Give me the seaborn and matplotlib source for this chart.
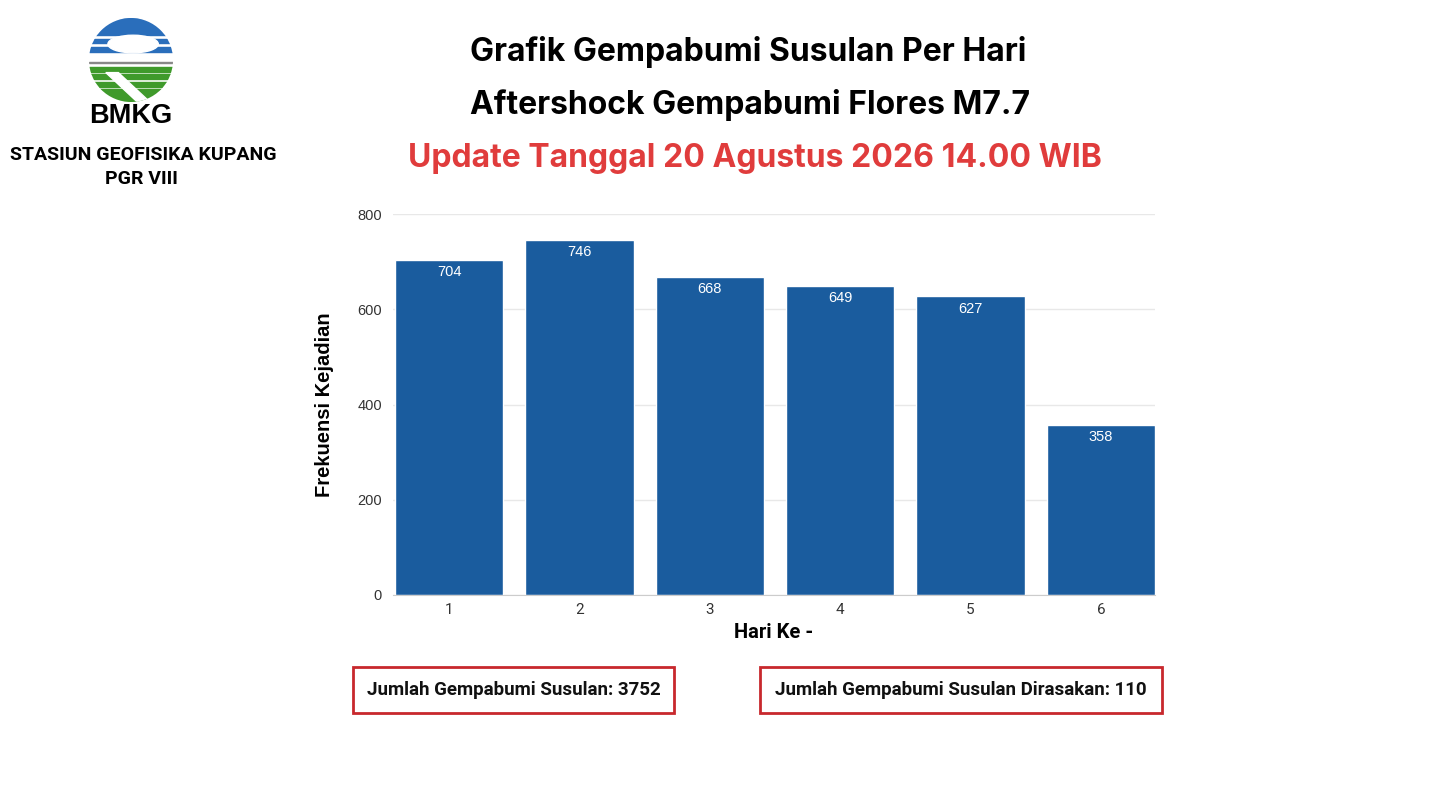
import matplotlib.pyplot as plt
import matplotlib.patches as mpatches
import seaborn as sns
import pandas as pd

# chart data
days = ['1', '2', '3', '4', '5', '6']
counts = [704, 746, 668, 649, 627, 358]
y_ticks = [0, 200, 400, 600, 800]
total_aftershocks = 3752
felt_aftershocks = 110

title_lines = ['Grafik Gempabumi Susulan Per Hari',
               'Aftershock Gempabumi Flores M7.7']
update_line = 'Update Tanggal 20 Agustus 2026 14.00 WIB'

sns.set_style('white')
plt.rcParams['font.family'] = ['Liberation Sans', 'DejaVu Sans']

W, H = 1432, 800
fig = plt.figure(figsize=(W / 100, H / 100), dpi=100)


def fx(px):
    return px / W


def fy(py):
    return 1 - py / H


# main bar chart
ax = fig.add_axes([fx(393), fy(595), fx(1155) - fx(393), fy(214) - fy(595)])
df = pd.DataFrame({'Hari': days, 'Frekuensi': counts})
sns.barplot(data=df, x='Hari', y='Frekuensi', color='#1a5c9e', saturation=1,
            width=0.83, ax=ax)
ax.set_xlim(-0.43, 5.415)
ax.set_ylim(0, 800)
ax.set_yticks(y_ticks)
ax.yaxis.grid(True, color='#e8e8e8', lw=1)
ax.set_axisbelow(True)
for side in ['top', 'right', 'left']:
    ax.spines[side].set_visible(False)
ax.spines['bottom'].set_color('#cccccc')
ax.tick_params(axis='both', length=0, labelcolor='#333333', labelsize=10.5)
ax.tick_params(axis='y', pad=8)
ax.tick_params(axis='x', pad=6)
ax.bar_label(ax.containers[0], padding=-14, color='white', fontsize=10.5)

ax.set_ylabel('Frekuensi Kejadian', fontsize=14.5, fontweight='bold', color='black')
ax.yaxis.set_label_coords((334 - 393) / 762, 0.5)
ax.set_xlabel('Hari Ke -', fontsize=14.5, fontweight='bold', color='black',
              family='Roboto')
ax.xaxis.set_label_coords(0.5, (595 - 623) / 381)
for lbl in ax.get_xticklabels():
    lbl.set_family('Roboto')
    lbl.set_fontsize(11)

# titles
fig.text(fx(748), fy(52), title_lines[0], ha='center', va='center',
         fontsize=23, fontweight='bold', family='Inter', color='black')
fig.text(fx(750), fy(105), title_lines[1], ha='center', va='center',
         fontsize=23, fontweight='bold', family='Inter', color='black')
fig.text(fx(755), fy(158), update_line, ha='center', va='center',
         fontsize=23, fontweight='bold', family='Inter', color='#e03c3c')

# summary boxes
boxes = [((353, 667, 674, 713), f'Jumlah Gempabumi Susulan: {total_aftershocks}'),
         ((760, 667, 1162, 713), f'Jumlah Gempabumi Susulan Dirasakan: {felt_aftershocks}')]
for (x0, y0, x1, y1), txt in boxes:
    fig.patches.append(mpatches.Rectangle((fx(x0), fy(y1)), fx(x1) - fx(x0), fy(y0) - fy(y1),
                                          transform=fig.transFigure, fill=False,
                                          edgecolor='#c8282d', lw=2))
    fig.text(fx((x0 + x1) / 2), fy((y0 + y1) / 2), txt, ha='center', va='center',
             fontsize=13.5, fontweight='bold', family='Roboto', color='#111111')

# logo and station name
logo = fig.add_axes([fx(89), fy(102), fx(84), 84 / H])
logo.set_xlim(-1, 1)
logo.set_ylim(-1, 1)
logo.axis('off')
clip = mpatches.Circle((0, 0), 1, transform=logo.transData)
blue, green = '#2a6ebb', '#3f9a2b'
for y0, y1 in [(0.6, 1.0), (0.4, 0.5), (0.2, 0.3)]:
    p = logo.add_patch(mpatches.Rectangle((-1, y0), 2, y1 - y0, color=blue))
    p.set_clip_path(clip)
cloud = logo.add_patch(mpatches.Ellipse((0.05, 0.38), 1.2, 0.42, color='white'))
cloud.set_clip_path(clip)
line = logo.add_patch(mpatches.Rectangle((-1, -0.08), 2, 0.04, color='#888888'))
line.set_clip_path(clip)
for y0, y1 in [(-0.28, -0.16), (-0.46, -0.34), (-0.64, -0.52), (-1.0, -0.7)]:
    p = logo.add_patch(mpatches.Rectangle((-1, y0), 2, y1 - y0, color=green))
    p.set_clip_path(clip)
wedge = logo.add_patch(mpatches.Polygon([(-0.6, -0.3), (-0.3, -0.3), (0.45, -1.0), (0.15, -1.0)],
                                        color='white'))
wedge.set_clip_path(clip)

fig.text(fx(131), fy(116), 'BMKG', ha='center', va='center', fontsize=19.5,
         fontweight='bold', color='black')
fig.text(fx(143), fy(155), 'STASIUN GEOFISIKA KUPANG', ha='center', va='center',
         fontsize=14, fontweight='bold', family='Roboto', color='black')
fig.text(fx(141), fy(179), 'PGR VIII', ha='center', va='center',
         fontsize=14, fontweight='bold', family='Roboto', color='black')

fig.savefig('out.png', dpi=100, facecolor='white')
